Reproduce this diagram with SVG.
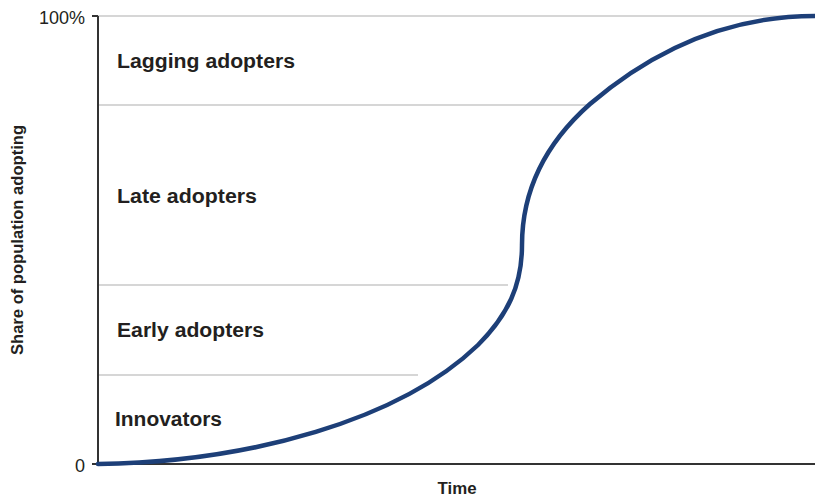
<svg xmlns="http://www.w3.org/2000/svg" width="815" height="499" viewBox="0 0 815 499">
<style>
.grid{stroke:#c8c8c8;stroke-width:1.5;fill:none}
.axis{stroke:#333;stroke-width:2;fill:none}
.lbl{font-family:"Liberation Sans",Arial,sans-serif;font-weight:bold;font-size:20px;fill:#231f20}
.tick{font-family:"Liberation Sans",Arial,sans-serif;font-size:18px;fill:#231f20}
.curve{stroke:#1d3f78;stroke-width:4.5;fill:none;stroke-linecap:round}
</style>
<rect width="815" height="499" fill="#fff"/>
<g id="gridlines">
<line class="grid" x1="98" y1="16" x2="790" y2="16"/>
<line class="grid" x1="98" y1="105" x2="588" y2="105"/>
<line class="grid" x1="98" y1="285" x2="508" y2="285"/>
<line class="grid" x1="98" y1="375" x2="418" y2="375"/>
</g>
<g id="axes">
<line class="axis" x1="98" y1="16" x2="98" y2="465"/>
<line class="axis" x1="92" y1="16" x2="98" y2="16"/>
<line class="axis" x1="92" y1="464" x2="815" y2="464"/>
<text class="tick" x="85" y="24" text-anchor="end">100%</text>
<text class="tick" x="85" y="472" text-anchor="end">0</text>
<text class="lbl" x="457" y="494" text-anchor="middle" style="font-size:16px" textLength="39" lengthAdjust="spacingAndGlyphs">Time</text>
<text class="lbl" transform="translate(23,240) rotate(-90)" text-anchor="middle" style="font-size:17px" textLength="230" lengthAdjust="spacingAndGlyphs">Share of population adopting</text>
</g>
<g id="curve">
<path class="curve" d="M98,464 C250,462 400,420 478,345 C508,315 522,285 522,245 C522,200 538,150 590,104 C645,57 720,16 815,16"/>
</g>
<g id="labels">
<text class="lbl" x="117" y="68" textLength="178" lengthAdjust="spacingAndGlyphs">Lagging adopters</text>
<text class="lbl" x="117" y="203" textLength="140" lengthAdjust="spacingAndGlyphs">Late adopters</text>
<text class="lbl" x="117" y="337" textLength="147" lengthAdjust="spacingAndGlyphs">Early adopters</text>
<text class="lbl" x="115" y="426" textLength="107" lengthAdjust="spacingAndGlyphs">Innovators</text>
</g>
</svg>
